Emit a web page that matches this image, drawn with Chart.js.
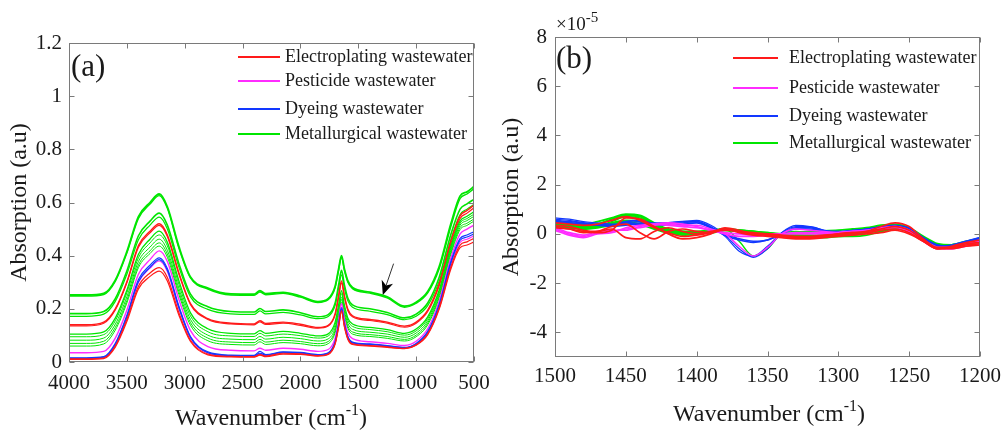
<!DOCTYPE html>
<html>
<head>
<meta charset="utf-8">
<script src="https://cdn.jsdelivr.net/npm/chart.js@4.4.1/dist/chart.umd.min.js"></script>
<style>
  html,body{margin:0;padding:0;background:#fff;}
  #wrap{position:relative;width:1008px;height:431px;overflow:hidden;background:#fff;font-family:'Liberation Serif','Times New Roman',serif;color:#1a1a1a;}
  .pane{position:absolute;top:0;height:431px;}
  .txt{position:absolute;white-space:nowrap;}
  .leg{position:absolute;height:2px;}
  sup{line-height:0;}
</style>
</head>
<body>
<div id="wrap">
  <div class="pane" style="left:0;width:500px;"><canvas id="ca"></canvas></div>
  <div class="pane" style="left:500px;width:508px;"><canvas id="cb"></canvas></div>

  <div class="txt" style="left:71px;top:46px;font-size:31px;line-height:40px;">(a)</div>
  <div class="txt" style="left:556px;top:38px;font-size:31px;line-height:40px;">(b)</div>
  <div class="txt" style="left:556px;top:12px;font-size:19px;line-height:24px;">×10<sup style="font-size:15px;vertical-align:8px;">-5</sup></div>

  <div class="txt" style="left:121px;width:300px;text-align:center;top:402px;font-size:24px;line-height:30px;">Wavenumber (cm<sup style="font-size:16px;vertical-align:10px;">-1</sup>)</div>
  <div class="txt" style="left:619px;width:300px;text-align:center;top:398px;font-size:24px;line-height:30px;">Wavenumber (cm<sup style="font-size:16px;vertical-align:10px;">-1</sup>)</div>

  <div id="legA"></div>
  <div id="legB"></div>
</div>
<script>
// ---------------- Panel (a) data ----------------
const WN_A = [4000,3850,3700,3600,3500,3400,3300,3220,3150,3050,2950,2800,2600,2400,2350,2300,2150,2000,1850,1760,1700,1670,1645,1620,1590,1550,1400,1250,1100,1000,900,800,700,620,560,500];
const X_TICKS_A = [4000,3500,3000,2500,2000,1500,1000,500];
const Y_TICKS_A = [0,0.2,0.4,0.6,0.8,1,1.2];

const MET_A1 = [0.252,0.252,0.258,0.308,0.415,0.547,0.600,0.632,0.584,0.434,0.320,0.278,0.256,0.255,0.268,0.257,0.262,0.248,0.227,0.238,0.285,0.350,0.400,0.350,0.305,0.280,0.263,0.245,0.210,0.225,0.265,0.360,0.520,0.625,0.640,0.660];
const MET_A2 = [0.248,0.248,0.254,0.303,0.410,0.540,0.594,0.626,0.578,0.428,0.316,0.274,0.252,0.251,0.263,0.253,0.258,0.244,0.224,0.234,0.280,0.345,0.394,0.345,0.300,0.276,0.259,0.241,0.206,0.221,0.260,0.352,0.510,0.615,0.632,0.652];
const MET_A3 = [0.182,0.182,0.190,0.238,0.342,0.475,0.530,0.560,0.515,0.370,0.255,0.208,0.190,0.188,0.201,0.190,0.196,0.185,0.170,0.178,0.222,0.290,0.345,0.290,0.240,0.215,0.200,0.186,0.166,0.180,0.222,0.320,0.480,0.575,0.595,0.612];
const MET_A4 = [0.172,0.172,0.180,0.228,0.330,0.460,0.515,0.545,0.500,0.357,0.245,0.198,0.181,0.179,0.192,0.181,0.187,0.177,0.163,0.171,0.213,0.278,0.328,0.277,0.230,0.206,0.191,0.178,0.159,0.172,0.212,0.305,0.460,0.555,0.575,0.592];
const ELE_A1 = [0.140,0.140,0.150,0.200,0.302,0.438,0.492,0.520,0.478,0.335,0.220,0.163,0.146,0.143,0.155,0.145,0.150,0.142,0.130,0.138,0.182,0.250,0.305,0.250,0.198,0.174,0.160,0.150,0.135,0.150,0.195,0.295,0.455,0.550,0.570,0.590];
const ELE_A2 = [0.136,0.136,0.146,0.196,0.298,0.432,0.486,0.514,0.472,0.330,0.216,0.160,0.143,0.140,0.151,0.141,0.146,0.138,0.127,0.135,0.177,0.244,0.298,0.244,0.193,0.170,0.156,0.146,0.131,0.146,0.190,0.288,0.445,0.540,0.560,0.580];
const MET_A5 = [0.105,0.105,0.113,0.165,0.270,0.405,0.462,0.492,0.450,0.305,0.185,0.125,0.108,0.106,0.118,0.108,0.115,0.108,0.098,0.106,0.150,0.215,0.268,0.214,0.165,0.143,0.130,0.122,0.108,0.124,0.170,0.272,0.435,0.530,0.548,0.565];
const MET_A6 = [0.095,0.095,0.103,0.155,0.260,0.392,0.448,0.478,0.437,0.292,0.173,0.114,0.098,0.096,0.108,0.098,0.105,0.099,0.090,0.098,0.140,0.205,0.257,0.204,0.156,0.134,0.122,0.114,0.101,0.117,0.163,0.265,0.428,0.522,0.540,0.556];
const MET_A7 = [0.082,0.082,0.090,0.142,0.245,0.378,0.432,0.462,0.420,0.277,0.160,0.101,0.086,0.084,0.096,0.086,0.093,0.088,0.079,0.087,0.128,0.193,0.245,0.192,0.145,0.123,0.112,0.105,0.093,0.109,0.155,0.258,0.420,0.515,0.532,0.548];
const MET_A8 = [0.070,0.070,0.078,0.130,0.232,0.365,0.418,0.448,0.406,0.264,0.148,0.090,0.075,0.073,0.085,0.075,0.082,0.077,0.069,0.077,0.118,0.182,0.235,0.182,0.135,0.113,0.103,0.096,0.085,0.101,0.147,0.250,0.412,0.506,0.522,0.538];
const MET_A9 = [0.060,0.060,0.068,0.120,0.222,0.355,0.408,0.436,0.394,0.253,0.138,0.080,0.066,0.064,0.076,0.066,0.073,0.069,0.061,0.069,0.110,0.173,0.226,0.173,0.127,0.105,0.096,0.089,0.079,0.095,0.140,0.243,0.405,0.498,0.514,0.530];
const PES_A1 = [0.035,0.035,0.040,0.090,0.195,0.330,0.385,0.418,0.378,0.235,0.118,0.058,0.044,0.042,0.052,0.044,0.052,0.048,0.040,0.047,0.090,0.158,0.220,0.160,0.110,0.088,0.076,0.070,0.062,0.078,0.125,0.230,0.392,0.482,0.500,0.515];
const DYE_A1 = [0.016,0.016,0.020,0.070,0.175,0.310,0.364,0.392,0.352,0.210,0.096,0.038,0.026,0.025,0.040,0.028,0.038,0.036,0.028,0.035,0.077,0.143,0.205,0.145,0.096,0.075,0.068,0.062,0.055,0.070,0.115,0.218,0.378,0.465,0.478,0.490];
const DYE_A2 = [0.014,0.014,0.018,0.066,0.170,0.302,0.356,0.385,0.345,0.204,0.092,0.035,0.024,0.023,0.033,0.026,0.036,0.034,0.026,0.033,0.074,0.140,0.200,0.142,0.093,0.072,0.066,0.060,0.054,0.068,0.112,0.214,0.372,0.458,0.470,0.482];
const PES_A2 = [0.013,0.013,0.017,0.064,0.168,0.300,0.353,0.380,0.340,0.200,0.090,0.034,0.023,0.022,0.030,0.024,0.035,0.033,0.025,0.032,0.072,0.138,0.198,0.140,0.091,0.071,0.065,0.059,0.053,0.067,0.110,0.210,0.365,0.450,0.462,0.475];
const ELE_A3 = [0.012,0.012,0.015,0.060,0.160,0.285,0.335,0.355,0.318,0.185,0.082,0.030,0.021,0.020,0.028,0.022,0.033,0.031,0.024,0.030,0.070,0.134,0.193,0.135,0.088,0.068,0.062,0.057,0.051,0.065,0.106,0.205,0.358,0.440,0.452,0.465];
const ELE_A4 = [0.010,0.010,0.013,0.056,0.152,0.275,0.322,0.342,0.305,0.176,0.077,0.027,0.019,0.018,0.026,0.020,0.030,0.029,0.022,0.028,0.067,0.130,0.190,0.132,0.085,0.066,0.060,0.055,0.050,0.063,0.103,0.200,0.350,0.430,0.440,0.452];

// arrow annotation in panel (a), in data coordinates
const ARROW_FROM = [1195, 0.370];
const ARROW_TO = [1288, 0.252];

// ---------------- Panel (b) data (units of 1e-5) ----------------
const WN_B = [1500,1490,1480,1470,1460,1450,1440,1430,1420,1410,1400,1390,1380,1370,1360,1350,1340,1330,1320,1310,1300,1290,1280,1270,1260,1250,1240,1230,1220,1210,1200];
const X_TICKS_B = [1500,1450,1400,1350,1300,1250,1200];
const Y_TICKS_B = [-4,-2,0,2,4,6,8];

const ELE_B1 = [0.30,0.20,0.10,0.05,0.15,0.65,0.60,0.30,0.00,-0.20,-0.15,0.00,0.25,0.15,0.00,-0.05,-0.10,-0.15,-0.15,-0.10,-0.05,0.00,0.10,0.30,0.45,0.30,-0.20,-0.55,-0.55,-0.45,-0.40];
const ELE_B2 = [0.35,0.30,0.15,0.10,0.20,-0.15,-0.20,0.10,0.25,0.10,0.00,0.10,0.20,0.10,0.00,0.00,-0.05,-0.10,-0.10,-0.05,0.00,0.05,0.10,0.20,0.30,0.15,-0.25,-0.60,-0.55,-0.40,-0.35];
const ELE_B3 = [0.45,0.40,0.35,0.40,0.55,0.70,0.55,0.25,0.05,-0.10,-0.05,0.05,0.15,0.10,0.05,0.00,-0.10,-0.15,-0.15,-0.10,0.00,0.05,0.05,0.15,0.20,0.05,-0.30,-0.60,-0.50,-0.35,-0.25];
const ELE_B4 = [0.25,0.20,0.05,0.10,0.30,0.40,0.05,-0.20,0.10,0.20,0.10,0.05,0.20,0.05,-0.05,-0.10,-0.15,-0.20,-0.20,-0.15,-0.10,-0.05,0.00,0.05,0.15,0.00,-0.30,-0.60,-0.60,-0.50,-0.45];
const PES_B1 = [0.20,0.00,-0.10,0.05,0.10,0.20,0.25,0.35,0.40,0.35,0.35,0.20,0.00,-0.50,-0.90,-0.55,0.00,0.20,0.15,0.10,0.05,0.10,0.10,0.20,0.30,0.10,-0.30,-0.60,-0.60,-0.50,-0.40];
const PES_B2 = [0.25,0.05,-0.05,0.10,0.15,0.15,0.30,0.40,0.45,0.40,0.30,0.15,0.00,-0.10,-0.10,-0.05,0.00,0.05,0.05,0.05,0.05,0.10,0.15,0.25,0.30,0.15,-0.25,-0.55,-0.60,-0.45,-0.30];
const PES_B3 = [0.15,-0.05,-0.15,0.00,0.05,0.25,0.35,0.40,0.35,0.30,0.25,0.15,0.05,0.00,-0.05,0.00,0.00,0.00,0.00,0.00,0.05,0.10,0.15,0.20,0.25,0.10,-0.30,-0.55,-0.55,-0.40,-0.25];
const DYE_B1 = [0.60,0.55,0.45,0.40,0.35,0.45,0.50,0.45,0.45,0.50,0.55,0.35,-0.05,-0.60,-0.95,-0.60,0.05,0.35,0.30,0.15,0.10,0.15,0.20,0.30,0.35,0.20,-0.20,-0.50,-0.50,-0.35,-0.20];
const DYE_B2 = [0.65,0.60,0.50,0.45,0.40,0.40,0.45,0.40,0.40,0.45,0.50,0.30,-0.10,-0.70,-0.90,-0.50,0.05,0.30,0.30,0.15,0.10,0.15,0.20,0.30,0.35,0.25,-0.15,-0.45,-0.50,-0.30,-0.15];
const DYE_B3 = [0.55,0.50,0.45,0.35,0.35,0.50,0.55,0.40,0.35,0.40,0.45,0.25,0.00,-0.20,-0.30,-0.25,0.00,0.25,0.25,0.10,0.05,0.10,0.20,0.25,0.30,0.20,-0.20,-0.50,-0.45,-0.30,-0.15];
const DYE_B4 = [0.50,0.45,0.40,0.35,0.30,0.35,0.40,0.40,0.45,0.50,0.50,0.25,-0.05,-0.25,-0.35,-0.25,0.00,0.20,0.20,0.10,0.05,0.10,0.15,0.25,0.30,0.20,-0.15,-0.45,-0.50,-0.35,-0.20];
const MET_B1 = [0.40,0.35,0.30,0.40,0.60,0.75,0.70,0.40,0.15,0.05,0.05,0.10,0.20,0.15,0.10,0.00,-0.05,-0.10,-0.10,-0.10,-0.10,-0.05,0.05,0.20,0.30,0.20,-0.20,-0.50,-0.50,-0.40,-0.30];
const MET_B2 = [0.45,0.40,0.35,0.35,0.50,0.70,0.65,0.35,0.10,-0.05,0.00,0.10,0.20,-0.30,-0.90,-0.60,0.00,0.10,0.05,0.00,-0.05,-0.05,0.05,0.20,0.25,0.15,-0.20,-0.50,-0.50,-0.35,-0.25];
const MET_B3 = [0.35,0.30,0.25,0.30,0.45,0.55,0.50,0.30,0.15,0.10,0.05,0.05,0.15,0.15,0.10,0.05,-0.05,-0.15,-0.15,-0.15,-0.10,-0.10,-0.05,0.10,0.20,0.15,-0.20,-0.50,-0.45,-0.35,-0.30];
const MET_B4 = [0.30,0.25,0.20,0.25,0.35,0.45,0.40,0.25,0.10,0.00,0.00,0.10,0.15,0.10,0.05,0.00,-0.05,-0.05,-0.10,-0.10,-0.05,0.00,0.05,0.15,0.25,0.20,-0.15,-0.45,-0.45,-0.30,-0.20];
const MET_B5 = [0.50,0.45,0.40,0.50,0.65,0.80,0.75,0.45,0.20,0.10,0.10,0.15,0.20,0.15,0.10,0.05,0.00,-0.05,-0.05,-0.05,0.00,0.00,0.10,0.25,0.30,0.15,-0.25,-0.50,-0.50,-0.40,-0.30];
const MET_B6 = [0.38,0.34,0.28,0.30,0.42,0.50,0.40,0.20,0.05,0.00,0.05,0.12,0.18,0.12,0.05,0.02,0.00,0.05,0.10,0.12,0.15,0.20,0.25,0.35,0.38,0.25,-0.10,-0.40,-0.45,-0.35,-0.25];

// ---------------- styling ----------------
const FONT = "'Liberation Serif','Times New Roman',serif";
const COL = {ele:'#ff1a1a', pes:'#ff2cff', dye:'#1238ff', met:'#00e600'};
const LEGEND = [
  ['Electroplating wastewater', COL.ele],
  ['Pesticide wastewater', COL.pes],
  ['Dyeing wastewater', COL.dye],
  ['Metallurgical wastewater', COL.met]
];

function ds(wn, vals, color, width){
  return {data: wn.map((x,i)=>({x:x, y:vals[i]})), borderColor: color, borderWidth: width,
          pointRadius: 0, fill:false, cubicInterpolationMode:'monotone'};
}

const SETS_A = [
  ds(WN_A, ELE_A4, COL.ele, 1.2), ds(WN_A, ELE_A3, COL.ele, 1.2),
  ds(WN_A, DYE_A1, COL.dye, 1.2), ds(WN_A, DYE_A2, COL.dye, 1.2),
  ds(WN_A, PES_A2, COL.pes, 1.2), ds(WN_A, PES_A1, COL.pes, 1.4),
  ds(WN_A, MET_A9, COL.met, 1), ds(WN_A, MET_A8, COL.met, 1), ds(WN_A, MET_A7, COL.met, 1),
  ds(WN_A, MET_A6, COL.met, 1), ds(WN_A, MET_A5, COL.met, 1.3),
  ds(WN_A, ELE_A2, COL.ele, 1.2), ds(WN_A, ELE_A1, COL.ele, 1.4),
  ds(WN_A, MET_A4, COL.met, 1.2), ds(WN_A, MET_A3, COL.met, 1.6),
  ds(WN_A, MET_A2, COL.met, 1.4), ds(WN_A, MET_A1, COL.met, 1.8)
];
const SETS_B = [
  ds(WN_B, ELE_B1, COL.ele, 1.7), ds(WN_B, ELE_B2, COL.ele, 1.7), ds(WN_B, ELE_B3, COL.ele, 1.7), ds(WN_B, ELE_B4, COL.ele, 1.7),
  ds(WN_B, PES_B1, COL.pes, 1.5), ds(WN_B, PES_B2, COL.pes, 1.7), ds(WN_B, PES_B3, COL.pes, 1.7),
  ds(WN_B, DYE_B1, COL.dye, 1.2), ds(WN_B, DYE_B2, COL.dye, 1.2), ds(WN_B, DYE_B3, COL.dye, 1.6), ds(WN_B, DYE_B4, COL.dye, 1.6),
  ds(WN_B, MET_B1, COL.met, 1.9), ds(WN_B, MET_B2, COL.met, 1.5), ds(WN_B, MET_B3, COL.met, 1.9),
  ds(WN_B, MET_B4, COL.met, 1.9), ds(WN_B, MET_B5, COL.met, 1.9), ds(WN_B, MET_B6, COL.met, 1.9)
];

const framePlugin = {
  id:'frame',
  afterDatasetsDraw(chart){
    const {ctx, chartArea:a, scales} = chart;
    const x = scales.x, y = scales.y;
    ctx.save();
    ctx.strokeStyle = '#7a7a7a';
    ctx.lineWidth = 1;
    const L = Math.round(a.left)+0.5, R = Math.round(a.right)-0.5, T = Math.round(a.top)+0.5, B = Math.round(a.bottom)-0.5;
    ctx.strokeRect(L, T, R-L, B-T);
    ctx.beginPath();
    x.ticks.forEach(t=>{
      const px = Math.round(x.getPixelForValue(t.value))+0.5;
      ctx.moveTo(px, B); ctx.lineTo(px, B-5);
      ctx.moveTo(px, T); ctx.lineTo(px, T+5);
    });
    y.ticks.forEach(t=>{
      const py = Math.round(y.getPixelForValue(t.value))+0.5;
      ctx.moveTo(L, py); ctx.lineTo(L+5, py);
      ctx.moveTo(R, py); ctx.lineTo(R-5, py);
    });
    ctx.stroke();
    const arr = chart.options.plugins.frame && chart.options.plugins.frame.arrow;
    if (arr){
      const x0 = x.getPixelForValue(arr[0][0]), y0 = y.getPixelForValue(arr[0][1]);
      const x1 = x.getPixelForValue(arr[1][0]), y1 = y.getPixelForValue(arr[1][1]);
      const ang = Math.atan2(y1-y0, x1-x0);
      const hl = 14, hw = 6;
      const bx = x1 - hl*Math.cos(ang), by = y1 - hl*Math.sin(ang);
      ctx.strokeStyle = '#333'; ctx.lineWidth = 1;
      ctx.beginPath(); ctx.moveTo(x0,y0); ctx.lineTo(bx + 4*Math.cos(ang), by + 4*Math.sin(ang)); ctx.stroke();
      const nx = -Math.sin(ang), ny = Math.cos(ang);
      ctx.fillStyle = '#000';
      ctx.beginPath();
      ctx.moveTo(x1,y1);
      ctx.lineTo(bx + hw*nx, by + hw*ny);
      ctx.lineTo(bx + 4*Math.cos(ang), by + 4*Math.sin(ang));
      ctx.lineTo(bx - hw*nx, by - hw*ny);
      ctx.closePath(); ctx.fill();
    }
    ctx.restore();
  }
};

function makeChart(id, sets, cfg){
  return new Chart(document.getElementById(id), {
    type:'line',
    data:{datasets: sets},
    plugins:[framePlugin],
    options:{
      responsive:true, maintainAspectRatio:false, animation:false, devicePixelRatio:1,
      layout:{padding:{left:0, right:cfg.padR, top:cfg.padT, bottom:0}},
      plugins:{legend:{display:false}, tooltip:{enabled:false}, frame:{arrow: cfg.arrow}},
      scales:{
        x:{type:'linear', reverse:true, min:cfg.xmin, max:cfg.xmax,
           afterBuildTicks:(s)=>{ s.ticks = cfg.xticks.map(v=>({value:v})); },
           afterFit:(s)=>{ s.height = cfg.xH; },
           grid:{display:false, drawTicks:false}, border:{display:false},
           ticks:{font:{family:FONT, size:21}, color:'#1a1a1a', padding:cfg.xPad, maxRotation:0, autoSkip:false,
                  callback:(v)=>String(v)}},
        y:{type:'linear', min:cfg.ymin, max:cfg.ymax,
           afterBuildTicks:(s)=>{ s.ticks = cfg.yticks.map(v=>({value:v})); },
           afterFit:(s)=>{ s.width = cfg.yW; },
           grid:{display:false, drawTicks:false}, border:{display:false},
           ticks:{font:{family:FONT, size:21}, color:'#1a1a1a', padding:cfg.yPad, autoSkip:false,
                  callback:(v)=>String(+Number(v).toFixed(1))},
           title:{display:true, text:'Absorption (a.u)', font:{family:FONT, size:24, lineHeight:1}, color:'#1a1a1a',
                  padding:{top:cfg.tPad, bottom:0}}}
      }
    }
  });
}

makeChart('ca', SETS_A, {padR:26, padT:43, xH:69, yW:69, xmin:500, xmax:4000, ymin:0, ymax:1.2,
  xticks:X_TICKS_A, yticks:Y_TICKS_A, xPad:9, yPad:7, tPad:8, arrow:[ARROW_FROM, ARROW_TO]});
makeChart('cb', SETS_B, {padR:25, padT:37, xH:74, yW:55, xmin:1200, xmax:1500, ymin:-5, ymax:8,
  xticks:X_TICKS_B, yticks:Y_TICKS_B, xPad:7, yPad:8, tPad:0, arrow:null});

// legends (HTML overlay)
function buildLegend(el, lineX0, lineX1, textX, rows, size){
  LEGEND.forEach((e,i)=>{
    const ln = document.createElement('div');
    ln.className='leg';
    ln.style.cssText = `left:${lineX0}px;width:${lineX1-lineX0}px;top:${rows[i]-1}px;background:${e[1]};`;
    el.appendChild(ln);
    const t = document.createElement('div');
    t.className='txt';
    t.style.cssText = `left:${textX}px;top:${rows[i]-12}px;font-size:${size}px;line-height:22px;`;
    t.textContent = e[0];
    el.appendChild(t);
  });
}
buildLegend(document.getElementById('legA'), 238, 280, 285, [57,81,109,134], 18);
buildLegend(document.getElementById('legB'), 733, 778, 789, [58,88,116,143], 18);
</script>
</body>
</html>
